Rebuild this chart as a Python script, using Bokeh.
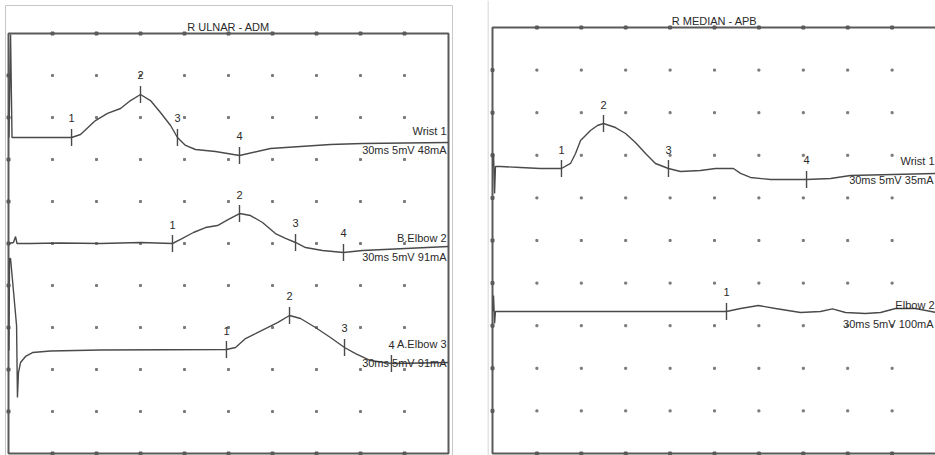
import numpy as np
from bokeh.plotting import figure
from bokeh.layouts import row
from bokeh.models import Range1d
from bokeh.core.properties import value
from bokeh.embed import file_html
from bokeh.resources import INLINE

# ---------------- DATA ----------------
# time in ms (3 ms/div, 30 ms sweep), amplitude in mV relative to trace baseline (5 mV/div)
ulnar_title = "R ULNAR - ADM"
median_title = "R MEDIAN - APB"

ulnar_wrist_t = [0.03, 0.14, 0.24, 4.30, 4.91, 5.93, 6.75, 7.64, 8.32, 9.00, 9.68, 10.36, 11.05,
                 11.52, 12.07, 12.75, 14.11, 15.75, 17.86, 19.91, 21.95, 24.14, 30.0]
ulnar_wrist_mv = [0, 12.26, 0, 0, 0.36, 2.02, 2.86, 3.45, 4.40, 5.12, 4.40, 2.98, 1.43,
                  0, -0.95, -1.43, -1.67, -2.14, -1.31, -1.07, -0.83, -0.71, -0.60]
ulnar_wrist_marks = [4.30, 9.00, 11.52, 15.75]
ulnar_wrist_base = 37.62
ulnar_wrist_name = "Wrist 1"
ulnar_wrist_info = "30ms 5mV 48mA"

ulnar_belbow_t = [0.03, 0.34, 0.48, 0.58, 1.50, 3.55, 6.27, 9.00, 11.18, 11.73, 12.61, 13.43, 14.25,
                  15.00, 15.75, 16.50, 17.32, 18.20, 18.89, 19.57, 20.25, 21.41, 22.84, 24.14, 30.0]
ulnar_belbow_mv = [0, 0.12, 0.83, 0, 0, 0.06, 0, 0.12, 0, 0.48, 1.31, 1.90, 2.14,
                   2.86, 3.57, 3.33, 2.50, 1.19, 0.60, 0.12, -0.48, -0.83, -1.07, -0.83, -0.36]
ulnar_belbow_marks = [11.18, 15.75, 19.57, 22.84]
ulnar_belbow_base = 25.0
ulnar_belbow_name = "B.Elbow 2"
ulnar_belbow_info = "30ms 5mV 91mA"

ulnar_aelbow_t = [0.03, 0.07, 0.14, 0.55, 0.61, 0.68, 0.82, 1.16, 1.64, 2.86, 6.27, 14.86, 15.48,
                  16.16, 16.84, 17.52, 18.34, 19.16, 19.91, 20.93, 21.95, 22.91, 23.66, 24.68, 26.11, 30.0]
ulnar_aelbow_mv = [-0.12, 10.83, 10.83, 2.86, -5.71, -2.74, -1.55, -0.83, -0.36, -0.18, -0.06, 0, 0.24,
                   1.31, 1.90, 2.50, 3.21, 4.05, 3.69, 2.62, 1.43, 0.24, -0.48, -1.31, -1.67, -1.55]
ulnar_aelbow_marks = [14.86, 19.16, 22.91, 26.11]
ulnar_aelbow_base = 12.38
ulnar_aelbow_name = "A.Elbow 3"
ulnar_aelbow_info = "30ms 5mV 91mA"

median_wrist_t = [0.03, 0.07, 0.14, 0.20, 0.54, 1.89, 3.24, 4.66, 5.27, 5.61, 5.95, 6.62, 7.09, 7.50,
                  8.31, 8.99, 9.66, 10.34, 11.01, 11.89, 12.70, 14.05, 15.07, 16.28, 16.76, 17.43,
                  18.78, 21.22, 22.84, 24.19, 30.0]
median_wrist_mv = [0.12, 1.64, -3.05, 0.12, 0.12, 0, -0.12, -0.12, 0.47, 1.64, 3.17, 4.34, 4.93, 5.16,
                   4.69, 3.99, 2.93, 1.64, 0.47, -0.12, -0.47, -0.35, -0.12, -0.12, -0.70, -1.17,
                   -1.41, -1.41, -1.29, -0.94, -0.70]
median_wrist_marks = [4.66, 7.50, 11.89, 21.22]
median_wrist_base = 33.57
median_wrist_name = "Wrist 1"
median_wrist_info = "30ms 5mV 35mA"

median_elbow_t = [0.03, 0.07, 0.14, 0.20, 15.81, 16.76, 17.97, 19.12, 20.81, 22.16, 22.97, 23.85,
                  25.20, 26.22, 27.23, 28.58, 30.0]
median_elbow_mv = [0, 1.88, -1.41, 0, 0, 0.35, 0.70, 0.35, -0.12, 0, 0.30, -0.12,
                   -0.23, -0.12, 0.35, 0.35, -0.12]
median_elbow_marks = [15.81]
median_elbow_base = 16.67
median_elbow_name = "Elbow 2"
median_elbow_info = "30ms 5mV 100mA"

grid_ms = [3, 6, 9, 12, 15, 18, 21, 24, 27]
grid_mv = [5, 10, 15, 20, 25, 30, 35, 40, 45]

# ---------------- STYLE ----------------
FONT = value("Liberation Sans")
TRACE_COLOR = "#4a4a4a"
FRAME_COLOR = "#5a5a5a"
TEXT_COLOR = "#2a2a2a"
DOT_COLOR = "#7a7a7a"
LIGHT = "#c8c8c8"
H = 455


def make_panel(width, x0, x1, y0, y1, title, traces, name_x, info_x, light):
    p = figure(width=width, height=H, x_range=Range1d(x0, x1), y_range=Range1d(y0, y1),
               output_backend="svg", toolbar_location=None,
               x_axis_location=None, y_axis_location=None, min_border=0,
               min_border_left=0, min_border_right=0, min_border_top=0, min_border_bottom=0,
               outline_line_color=None, background_fill_color="white",
               border_fill_color="white")
    p.xgrid.visible = False
    p.ygrid.visible = False

    # light outer border
    for (ax, ay, bx, by) in light:
        p.segment(x0=[ax], y0=[ay], x1=[bx], y1=[by], line_color=LIGHT, line_width=1)

    # dotted grid
    gx, gy = np.meshgrid(grid_ms, grid_mv)
    p.scatter(gx.ravel(), gy.ravel(), marker="square", size=2, color=DOT_COLOR)
    # edge ticks
    ex = list(grid_ms) * 2
    ey = [0] * len(grid_ms) + [50] * len(grid_ms)
    p.scatter(ex, ey, marker="square", size=3, color=FRAME_COLOR)
    p.scatter([0] * len(grid_mv), grid_mv, marker="square", size=3, color=FRAME_COLOR)

    # frame
    p.quad(left=[0], right=[30], bottom=[0], top=[50], fill_color=None,
           line_color=FRAME_COLOR, line_width=2)

    # title
    p.text(x=[15], y=[50], text=[title], text_align="center", text_baseline="middle",
           y_offset=-7, text_font=FONT, text_font_size="11px", text_color=TEXT_COLOR)

    for (t, mv, marks, base, name, info) in traces:
        t = np.asarray(t, float)
        y = base + np.asarray(mv, float)
        p.line(t, y, line_color=TRACE_COLOR, line_width=1.4)
        my = base + np.interp(marks, t, np.asarray(mv, float))
        p.scatter(marks, my, marker="dash", angle=np.pi / 2, size=17,
                  line_color=TRACE_COLOR, line_width=1.4)
        p.text(x=marks, y=list(my), text=[str(i + 1) for i in range(len(marks))],
               text_align="center", text_baseline="middle", y_offset=-19,
               text_font=FONT, text_font_size="11px", text_color=TEXT_COLOR)
        p.text(x=[name_x], y=[base], text=[name], text_align="right", text_baseline="middle",
               y_offset=-6, text_font=FONT, text_font_size="11px", text_color=TEXT_COLOR)
        p.text(x=[info_x], y=[base], text=[info], text_align="right", text_baseline="middle",
               y_offset=13, text_font=FONT, text_font_size="11px", text_color=TEXT_COLOR)
    return p


# left panel: canvas starts at page x=0; frame at page x=8..448, y=33..453
lx_ppm = 440 / 30.0
ly_ppm = 420 / 50.0
left = make_panel(
    487, -8 / lx_ppm, 479 / lx_ppm, -2 / ly_ppm, 453 / ly_ppm, ulnar_title,
    [(ulnar_wrist_t, ulnar_wrist_mv, ulnar_wrist_marks, ulnar_wrist_base, ulnar_wrist_name, ulnar_wrist_info),
     (ulnar_belbow_t, ulnar_belbow_mv, ulnar_belbow_marks, ulnar_belbow_base, ulnar_belbow_name, ulnar_belbow_info),
     (ulnar_aelbow_t, ulnar_aelbow_mv, ulnar_aelbow_marks, ulnar_aelbow_base, ulnar_aelbow_name, ulnar_aelbow_info)],
    name_x=438 / lx_ppm, info_x=438 / lx_ppm,
    light=[(-3 / lx_ppm, 448 / ly_ppm, 444 / lx_ppm, 448 / ly_ppm),
           (-3 / lx_ppm, -2 / ly_ppm, -3 / lx_ppm, 448 / ly_ppm),
           (444 / lx_ppm, -2 / ly_ppm, 444 / lx_ppm, 448 / ly_ppm)])

# right panel: canvas starts at page x=487; frame at page x=492.., y=27..453
rx_ppm = 444 / 30.0
ry_ppm = 426 / 50.0
right = make_panel(
    448, -5 / rx_ppm, 443 / rx_ppm, -2 / ry_ppm, 453 / ry_ppm, median_title,
    [(median_wrist_t, median_wrist_mv, median_wrist_marks, median_wrist_base, median_wrist_name, median_wrist_info),
     (median_elbow_t, median_elbow_mv, median_elbow_marks, median_elbow_base, median_elbow_name, median_elbow_info)],
    name_x=442 / rx_ppm, info_x=441 / rx_ppm,
    light=[(-4.5 / rx_ppm, -2 / ry_ppm, -4.5 / rx_ppm, 453 / ry_ppm)])

layout = row(left, right, spacing=0)
open("out.html", "w").write(file_html(layout, INLINE))
